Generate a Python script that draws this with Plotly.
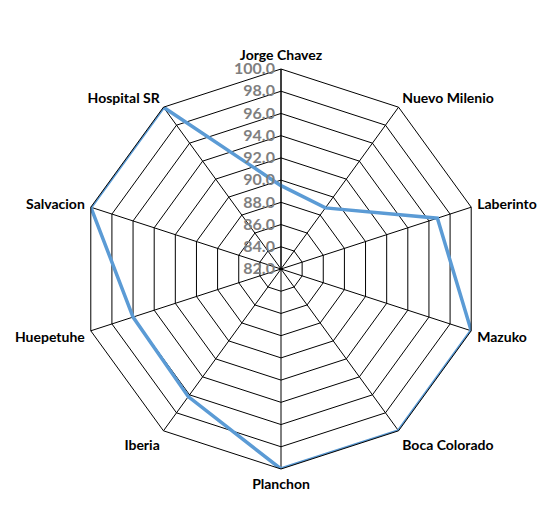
import plotly.graph_objects as go

categories = ["Jorge Chavez", "Nuevo Milenio", "Laberinto", "Mazuko", "Boca Colorado",
              "Planchon", "Iberia", "Huepetuhe", "Salvacion", "Hospital SR"]
values = [89.5, 88.8, 96.8, 100.0, 100.0, 100.0, 96.2, 96.0, 100.0, 100.0]
tick_vals = [82, 84, 86, 88, 90, 92, 94, 96, 98, 100]
tick_text = ["82.0", "84.0", "86.0", "88.0", "90.0", "92.0", "94.0", "96.0", "98.0", "100.0"]

W, H = 547, 531
cx, cy, R = 273, 261, 200

fig = go.Figure()
fig.add_trace(go.Scatterpolar(
    r=values + values[:1],
    theta=categories + categories[:1],
    mode="lines",
    line=dict(color="#5B9BD5", width=3.5),
    showlegend=False,
    hoverinfo="skip",
))

fig.update_layout(
    width=W, height=H,
    margin=dict(l=0, r=0, t=0, b=0),
    paper_bgcolor="white",
    plot_bgcolor="white",
    font=dict(family="Lato, Liberation Sans, sans-serif", color="black"),
    polar=dict(
        domain=dict(x=[(cx - R) / W, (cx + R) / W], y=[(H - cy - R) / H, (H - cy + R) / H]),
        bgcolor="white",
        gridshape="linear",
        radialaxis=dict(
            range=[82, 100],
            tickvals=tick_vals,
            ticktext=tick_text,
            angle=90,
            tickangle=90,
            side="counterclockwise",
            showline=True,
            linecolor="black",
            linewidth=1,
            gridcolor="black",
            gridwidth=1,
            ticks="",
            tickfont=dict(size=16, color="#7F7F7F", family="Lato, Liberation Sans, sans-serif", weight="bold"),
        ),
        angularaxis=dict(
            rotation=90,
            direction="clockwise",
            showline=True,
            linecolor="black",
            linewidth=1,
            gridcolor="black",
            gridwidth=1,
            ticks="outside",
            ticklen=3,
            tickcolor="rgba(0,0,0,0)",
            tickfont=dict(size=14, color="black", family="Lato, Liberation Sans, sans-serif", weight="bold"),
        ),
    ),
)

fig.write_html("out.html")
